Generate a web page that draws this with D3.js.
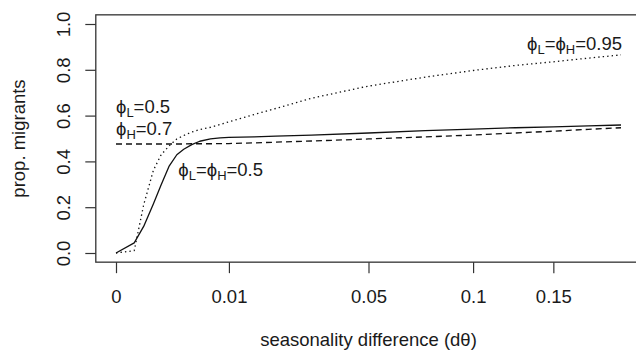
<!DOCTYPE html>
<html>
<head>
<meta charset="utf-8">
<script src="https://cdn.jsdelivr.net/npm/d3@7"></script>
<style>
  body { margin: 0; background: #fff; }
  text { font-family: "Liberation Sans", Arial, sans-serif; fill: #1a1a1a; }
</style>
</head>
<body>
<div id="chart"></div>
<script>
// seasonality difference values (x), shared by the three curves
const dtheta = [0, 0.00026, 0.0006, 0.0011, 0.0016, 0.0022, 0.0029, 0.0036, 0.0045,
  0.0055, 0.007, 0.0085, 0.01, 0.015, 0.02, 0.03, 0.05, 0.075, 0.1, 0.125, 0.15, 0.175, 0.2];

// phiL = phiH = 0.5 (solid)
const migEqual05 = [0, 0.044, 0.116, 0.215, 0.298, 0.378, 0.429, 0.453, 0.473,
  0.488, 0.498, 0.503, 0.505, 0.507, 0.510, 0.515, 0.524, 0.534, 0.541, 0.547, 0.551, 0.555, 0.559];

// phiL = 0.5, phiH = 0.7 (dashed)
const migMixed = [0.476, 0.476, 0.476, 0.476, 0.476, 0.476, 0.476, 0.476, 0.477,
  0.477, 0.477, 0.478, 0.478, 0.481, 0.484, 0.489, 0.498, 0.507, 0.515, 0.524, 0.532, 0.540, 0.547];

// phiL = phiH = 0.95 (dotted)
const migEqual095 = [0, 0.010, 0.21, 0.362, 0.429, 0.467, 0.498, 0.513, 0.528,
  0.539, 0.549, 0.561, 0.573, 0.605, 0.631, 0.676, 0.729, 0.768, 0.797, 0.819, 0.835, 0.851, 0.865];

const xTicks = [0, 0.01, 0.05, 0.1, 0.15];
const yTicks = [0, 0.2, 0.4, 0.6, 0.8, 1.0];

const W = 636, H = 351;

const svg = d3.select("#chart")
  .append("svg")
  .attr("width", W)
  .attr("height", H);

// x on a square-root scale, y linear
const xScale = d3.scaleSqrt().domain([0, 0.2]).range([116, 621]);
const yScale = d3.scaleLinear().domain([0, 1]).range([253, 24]);

// plot box with R-style 4% padding
const xPad = 0.04 * (xScale.range()[1] - xScale.range()[0]);
const boxL = xScale.range()[0] - xPad, boxR = xScale.range()[1] + xPad;
const boxT = yScale(1.04), boxB = yScale(-0.04);

svg.append("rect")
  .attr("x", boxL).attr("y", boxT)
  .attr("width", boxR - boxL).attr("height", boxB - boxT)
  .attr("fill", "none")
  .attr("stroke", "#333")
  .attr("stroke-width", 1.3);

// x axis
const xAxis = d3.axisBottom(xScale)
  .tickValues(xTicks)
  .tickFormat(d => d === 0 ? "0" : String(d))
  .tickSize(11)
  .tickSizeOuter(0)
  .tickPadding(17);
const gx = svg.append("g")
  .attr("transform", `translate(0, ${boxB})`)
  .call(xAxis);
gx.select(".domain").remove();
gx.selectAll("line").attr("stroke", "#333").attr("stroke-width", 1.2);
gx.selectAll("text")
  .style("font-size", "18.5px")
  .attr("fill", "#1a1a1a");

// y axis, labels rotated like R's default
const yAxis = d3.axisLeft(yScale)
  .tickValues(yTicks)
  .tickFormat(d3.format(".1f"))
  .tickSize(10.5)
  .tickSizeOuter(0);
const gy = svg.append("g")
  .attr("transform", `translate(${boxL}, 0)`)
  .call(yAxis);
gy.select(".domain").remove();
gy.selectAll("line").attr("stroke", "#333").attr("stroke-width", 1.2);
gy.selectAll("text")
  .style("font-size", "18.5px")
  .attr("fill", "#1a1a1a")
  .attr("x", 0).attr("dy", 0)
  .attr("transform", "translate(-26, 0) rotate(-90)")
  .attr("text-anchor", "middle");

// axis titles
svg.append("text")
  .attr("x", (boxL + boxR) / 2)
  .attr("y", 346)
  .attr("text-anchor", "middle")
  .style("font-size", "18.5px")
  .text("seasonality difference (dθ)");

svg.append("text")
  .attr("transform", `translate(25, ${(boxT + boxB) / 2}) rotate(-90)`)
  .attr("text-anchor", "middle")
  .style("font-size", "18.5px")
  .text("prop. migrants");

// curves
const line = d3.line()
  .x((d, i) => xScale(dtheta[i]))
  .y(d => yScale(d));

const series = [
  { values: migMixed, dash: "6,4" },
  { values: migEqual095, dash: "1.4,3.1" },
  { values: migEqual05, dash: null }
];

svg.selectAll(".curve")
  .data(series)
  .enter()
  .append("path")
  .attr("class", "curve")
  .attr("d", d => line(d.values))
  .attr("fill", "none")
  .attr("stroke", "#111")
  .attr("stroke-width", 1.3)
  .attr("stroke-linejoin", "round")
  .attr("stroke-dasharray", d => d.dash);

// curve labels with phi and subscripts
function phiLabel(x, y, parts, anchor) {
  const t = svg.append("text")
    .attr("x", x).attr("y", y)
    .attr("text-anchor", anchor || "start")
    .style("font-size", "18.5px");
  let shift = 0;
  parts.forEach(p => {
    if (p.sub) {
      t.append("tspan").attr("dy", 4 - shift).style("font-size", "13px").text(p.sub);
      shift = 4;
    } else {
      t.append("tspan").attr("dy", -shift).text(p.txt);
      shift = 0;
    }
  });
}

phiLabel(xScale(0), yScale(0.611), [{ txt: "ϕ" }, { sub: "L" }, { txt: "=0.5" }]);
phiLabel(xScale(0), yScale(0.515), [{ txt: "ϕ" }, { sub: "H" }, { txt: "=0.7" }]);
phiLabel(xScale(0.00305), yScale(0.336),
  [{ txt: "ϕ" }, { sub: "L" }, { txt: "=ϕ" }, { sub: "H" }, { txt: "=0.5" }]);
phiLabel(xScale(0.2) + 1, yScale(0.886),
  [{ txt: "ϕ" }, { sub: "L" }, { txt: "=ϕ" }, { sub: "H" }, { txt: "=0.95" }], "end");
</script>
</body>
</html>
